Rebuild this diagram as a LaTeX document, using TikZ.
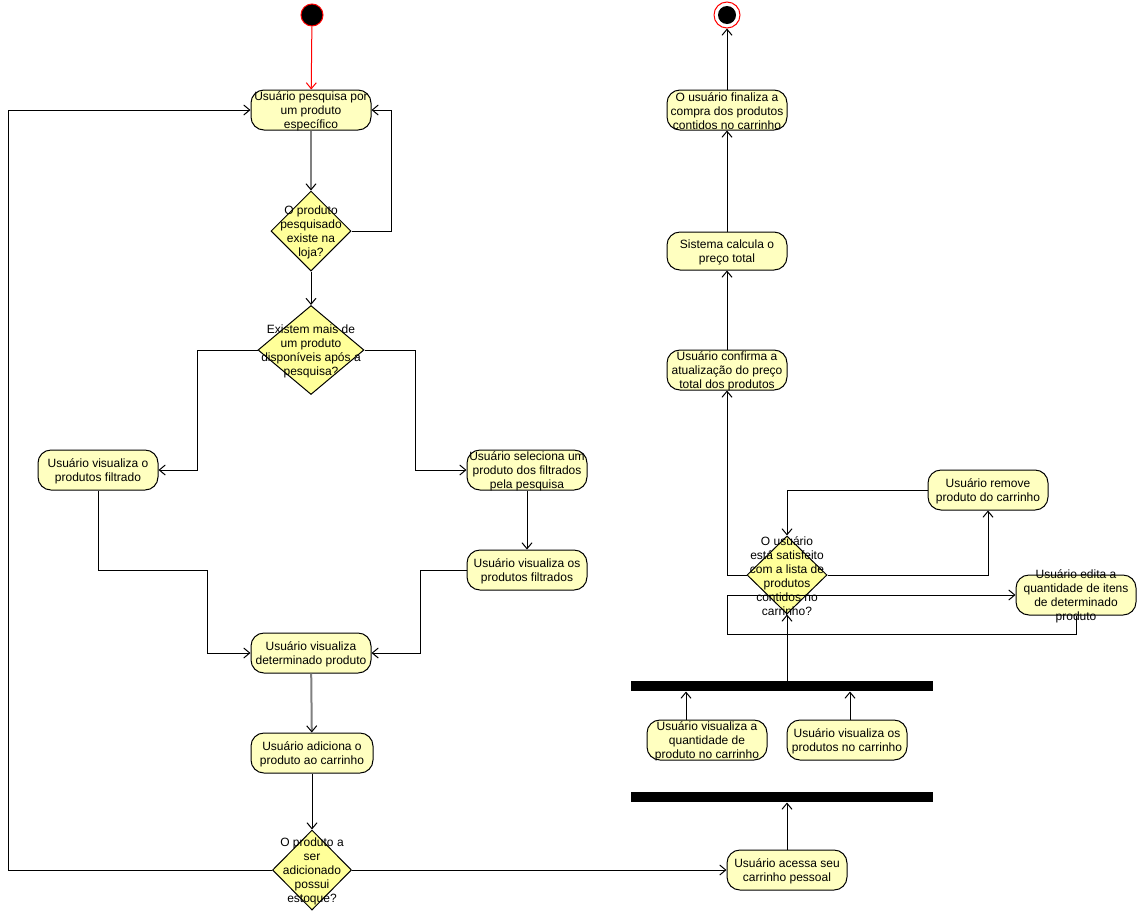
\documentclass[tikz,border=0pt]{standalone}
\usepackage{fontspec}
\setmainfont{Liberation Sans}
\usetikzlibrary{shapes.geometric,arrows.meta}
\definecolor{actfill}{RGB}{255,255,192}
\definecolor{decfill}{RGB}{255,255,153}
\begin{document}
\begin{tikzpicture}[x=1pt,y=-1pt,
    txt/.style={align=center,inner sep=0pt,yshift=-1.5pt,font=\fontsize{12}{14}\selectfont},
    act/.style={draw,fill=actfill,rounded corners=13pt,minimum width=120pt,minimum height=40pt,inner sep=0pt},
    decision/.style={draw,diamond,fill=decfill,minimum width=80pt,minimum height=80pt,inner sep=0pt},
    bar/.style={fill=black,minimum width=302pt,minimum height=10pt,inner sep=0pt},
    flow/.style={line width=1pt,-{Straight Barb[length=6pt,width=10pt]}},
    selflow/.style={line width=2pt,draw=gray,-{Straight Barb[length=6pt,width=10pt,line width=1pt,black]}},
    line width=1pt]
  \useasboundingbox (0,0) rectangle (1137,911);

  % inicio e fim
  \node[circle,fill=black,draw=red,minimum size=22pt,inner sep=0pt] (start) at (312,15) {};
  \node[circle,fill=white,draw=red,minimum size=26pt,inner sep=0pt,
        path picture={\fill[black] (path picture bounding box.center) circle (9pt);}] (stop) at (727,15) {};

  % coluna da esquerda
  \node[act,label={[txt]center:{Usuário pesquisa por\\um produto\\específico}}] (pesquisa) at (311,110) {};
  \node[decision,label={[txt]center:{O produto\\pesquisado\\existe na\\loja?}}] (existe) at (311,231) {};
  \node[decision,minimum width=106pt,minimum height=89pt,
        label={[txt]center:{Existem mais de\\um produto\\disponíveis após a\\pesquisa?}}] (mais) at (311,350) {};
  \node[act,label={[txt]center:{Usuário visualiza o\\produtos filtrado}}] (filtrado) at (98,470) {};
  \node[act,label={[txt]center:{Usuário seleciona um\\produto dos filtrados\\pela pesquisa}}] (seleciona) at (527,470) {};
  \node[act,label={[txt]center:{Usuário visualiza os\\produtos filtrados}}] (filtrados) at (527,570) {};
  \node[act,label={[txt]center:{Usuário visualiza\\determinado produto}}] (determinado) at (311,653) {};
  \node[act,minimum width=122pt,label={[txt]center:{Usuário adiciona o\\produto ao carrinho}}] (adiciona) at (312,753) {};
  \node[decision,minimum width=79pt,label={[txt]center:{O produto a\\ser\\adicionado\\possui\\estoque?}}] (estoque) at (312,870) {};

  % coluna da direita
  \node[act,label={[txt]center:{Usuário acessa seu\\carrinho pessoal}}] (acessa) at (787,870) {};
  \node[bar] (barra2) at (782,797) {};
  \node[bar] (barra1) at (782,686) {};
  \node[act,label={[txt]center:{Usuário visualiza a\\quantidade de\\produto no carrinho}}] (quantidade) at (707,740) {};
  \node[act,label={[txt]center:{Usuário visualiza os\\produtos no carrinho}}] (nocarrinho) at (847,740) {};
  \node[decision,minimum height=78pt,
        label={[txt]center:{O usuário\\está satisfeito\\com a lista de\\produtos\\contidos no\\carrinho?}}] (satisfeito) at (787,575) {};
  \node[act,label={[txt]center:{Usuário remove\\produto do carrinho}}] (remove) at (988,490) {};
  \node[act,label={[txt]center:{Usuário edita a\\quantidade de itens\\de determinado\\produto}}] (edita) at (1076,595) {};
  \node[act,label={[txt]center:{Usuário confirma a\\atualização do preço\\total dos produtos}}] (confirma) at (727,370) {};
  \node[act,minimum height=38pt,label={[txt]center:{Sistema calcula o\\preço total}}] (calcula) at (727,251) {};
  \node[act,label={[txt]center:{O usuário finaliza a\\compra dos produtos\\contidos no carrinho}}] (finaliza) at (727,110) {};

  % transicoes
  \draw[flow,red] (start) -- (pesquisa);
  \draw[selflow] (pesquisa) -- (existe);
  \draw[flow] (existe.east) -- ++(40,0) |- (pesquisa.east);
  \draw[flow] (existe) -- (mais);
  \draw[flow] (mais.west) -- ++(-60,0) |- (filtrado.east);
  \draw[flow] (mais.east) -- ++(51,0) |- (seleciona.west);
  \draw[flow] (seleciona) -- (filtrados);
  \draw[flow] (filtrado.south) |- (207,570) |- (determinado.west);
  \draw[flow] (filtrados.west) -- (420,570) |- (determinado.east);
  \draw[selflow] (determinado) -- (adiciona);
  \draw[flow] (adiciona) -- (estoque);
  \draw[flow] (estoque.west) -- (8,870) |- (pesquisa.west);
  \draw[flow] (estoque.east) -- (acessa.west);
  \draw[flow] (acessa.north) -- (acessa.north |- barra2.south);
  \draw[flow] ([xshift=-21pt]quantidade.north) -- ([xshift=-21pt]quantidade.north |- barra1.south);
  \draw[flow] ([xshift=3pt]nocarrinho.north) -- ([xshift=3pt]nocarrinho.north |- barra1.south);
  \draw[flow] (satisfeito.south |- barra1.north) -- (satisfeito.south);
  \draw[flow] (satisfeito.east) -| (remove.south);
  \draw[flow] (remove.west) -| (satisfeito.north);
  \draw[flow] (edita.south) |- (727,634) -- (727,595) -- (edita.west);
  \draw[flow] (satisfeito.west) -| (confirma.south);
  \draw[flow] (confirma) -- (calcula);
  \draw[flow] (calcula) -- (finaliza);
  \draw[flow] (finaliza) -- (stop);
\end{tikzpicture}
\end{document}
